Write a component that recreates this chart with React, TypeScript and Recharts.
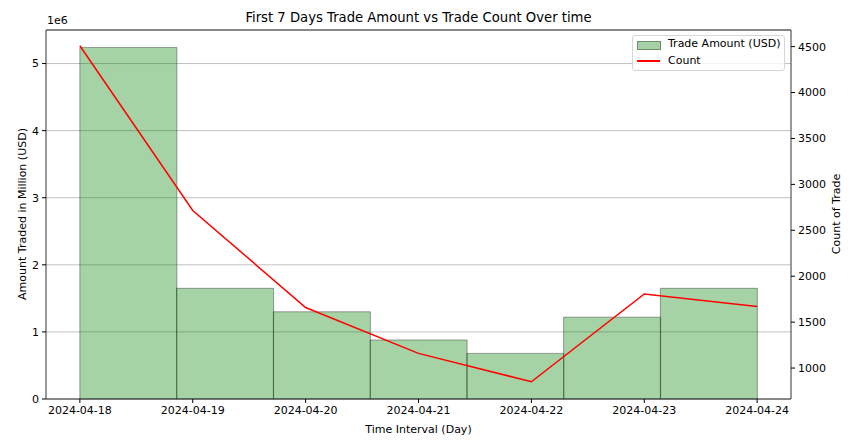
import {
  ComposedChart,
  Bar,
  Line,
  XAxis,
  YAxis,
  CartesianGrid,
  ReferenceLine,
} from "recharts";

const dates = [
  "2024-04-18",
  "2024-04-19",
  "2024-04-20",
  "2024-04-21",
  "2024-04-22",
  "2024-04-23",
  "2024-04-24",
];
// one histogram bin per day, first 7 days
const tradeAmount = [5240000, 1650000, 1300000, 880000, 680000, 1220000, 1650000];
const tradeCount = [4510, 2716, 1659, 1160, 851, 1807, 1670];

const amountTicks = [0, 1000000, 2000000, 3000000, 4000000, 5000000];
const countTicks = [1000, 1500, 2000, 2500, 3000, 3500, 4000, 4500];
const dayTicks = [0, 1, 2, 3, 4, 5, 6];

const data = dates.map((d, i) => ({
  idx: i,
  amount: tradeAmount[i],
  count: tradeCount[i],
}));

const FONT = "'DejaVu Sans', sans-serif";
const tickStyle = { fill: "#000", fontSize: 11, fontFamily: FONT };
const axisColor = "#333";

export default function App() {
  return (
    <div style={{ position: "relative", width: 857, height: 444, fontFamily: FONT }}>
      <style>{`body{margin:0}`}</style>
      <ComposedChart
        width={857}
        height={444}
        data={data}
        margin={{ top: 30, right: 0, bottom: 0, left: 0 }}
        barCategoryGap={0}
        barGap={0}
      >
        <CartesianGrid
          xAxisId="days"
          yAxisId="amt"
          vertical={false}
          stroke="#b0b0b0"
          strokeWidth={0.8}
        />
        {/* bins axis: same pixel range as the days axis, bars centred on each bin */}
        <XAxis
          xAxisId="bins"
          dataKey="idx"
          type="number"
          orientation="top"
          height={0}
          domain={[-0.85, 6.85]}
          hide
        />
        <XAxis
          xAxisId="days"
          dataKey="idx"
          type="number"
          domain={[-0.3, 6.3]}
          ticks={dayTicks}
          tickFormatter={(v) => dates[v]}
          height={45}
          tickSize={4}
          tickMargin={3}
          tick={tickStyle}
          stroke={axisColor}
          tickLine={{ stroke: "#000" }}
          label={{
            value: "Time Interval (Day)",
            position: "insideBottom",
            offset: 11,
            fill: "#000",
            fontSize: 11,
            fontFamily: FONT,
          }}
        />
        <YAxis
          yAxisId="amt"
          domain={[0, 5500000]}
          ticks={amountTicks}
          tickFormatter={(v) => String(v / 1000000)}
          width={46}
          tickSize={4}
          tickMargin={3}
          tick={tickStyle}
          stroke={axisColor}
          tickLine={{ stroke: "#000" }}
        />
        <YAxis
          yAxisId="cnt"
          orientation="right"
          domain={[663, 4681]}
          ticks={countTicks}
          width={66}
          tickSize={4}
          tickMargin={3}
          tick={tickStyle}
          stroke={axisColor}
          tickLine={{ stroke: "#000" }}
        />
        <ReferenceLine xAxisId="days" yAxisId="amt" y={5500000} stroke={axisColor} />
        <Bar
          xAxisId="bins"
          yAxisId="amt"
          dataKey="amount"
          name="Trade Amount (USD)"
          fill="green"
          fillOpacity={0.35}
          stroke="#000"
          strokeOpacity={0.35}
          strokeWidth={1}
          isAnimationActive={false}
        />
        <Line
          xAxisId="days"
          yAxisId="cnt"
          dataKey="count"
          name="Count"
          type="linear"
          stroke="red"
          strokeWidth={1.5}
          dot={false}
          activeDot={false}
          isAnimationActive={false}
        />
      </ComposedChart>

      <div
        style={{
          position: "absolute",
          left: 0,
          width: 837,
          top: 10,
          textAlign: "center",
          fontSize: 13.2,
          color: "#000",
        }}
      >
        First 7 Days Trade Amount vs Trade Count Over time
      </div>
      <div style={{ position: "absolute", left: 47, top: 14, fontSize: 11 }}>1e6</div>
      <div
        style={{
          position: "absolute",
          left: 22,
          top: 214,
          fontSize: 11,
          whiteSpace: "nowrap",
          transform: "translate(-50%, -50%) rotate(-90deg)",
        }}
      >
        Amount Traded in Million (USD)
      </div>
      <div
        style={{
          position: "absolute",
          left: 836,
          top: 214,
          fontSize: 11,
          whiteSpace: "nowrap",
          transform: "translate(-50%, -50%) rotate(-90deg)",
        }}
      >
        Count of Trade
      </div>

      <div
        style={{
          position: "absolute",
          left: 632,
          top: 35,
          width: 153,
          height: 36,
          boxSizing: "border-box",
          border: "1px solid #d6d6d6",
          borderRadius: 3,
          background: "rgba(255,255,255,0.8)",
          fontSize: 11,
          color: "#000",
        }}
      >
        <div style={{ position: "absolute", left: 4, top: 5, width: 22, height: 7, background: "#a6d1a4", border: "1px solid #6e8f6d" }} />
        <div style={{ position: "absolute", left: 35, top: 1 }}>Trade Amount (USD)</div>
        <div style={{ position: "absolute", left: 4, top: 24, width: 23, height: 1.5, background: "red" }} />
        <div style={{ position: "absolute", left: 35, top: 18 }}>Count</div>
      </div>
    </div>
  );
}
